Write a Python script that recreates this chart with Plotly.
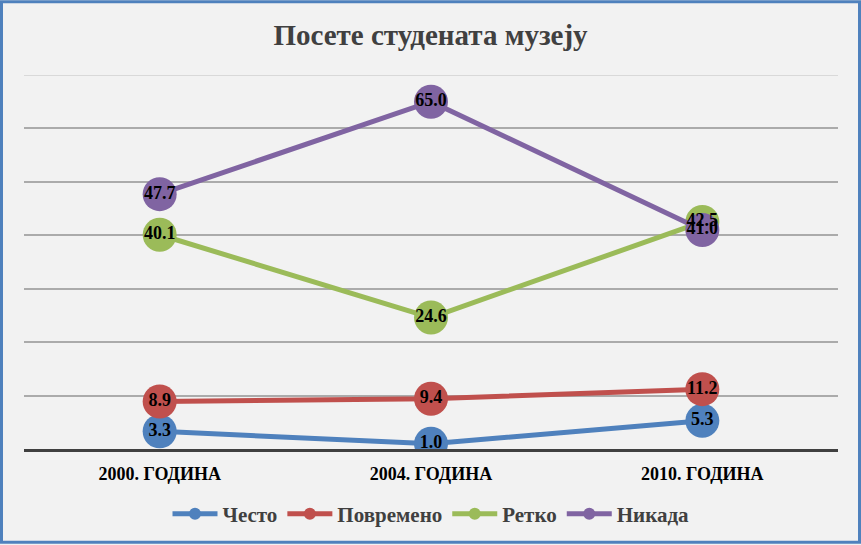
import plotly.graph_objects as go

# Подаци са графикона
godine = ['2000. ГОДИНА', '2004. ГОДИНА', '2010. ГОДИНА']
cesto = [3.3, 1.0, 5.3]
povremeno = [8.9, 9.4, 11.2]
retko = [40.1, 24.6, 42.5]
nikada = [47.7, 65.0, 41.0]

serije = [
    ('Често', cesto, '#4f81bd'),
    ('Повремено', povremeno, '#c0504d'),
    ('Ретко', retko, '#9bbb59'),
    ('Никада', nikada, '#8064a2'),
]

font_serif = 'Liberation Serif'

fig = go.Figure()

# линије и маркери
for ime, vrednosti, boja in serije:
    fig.add_trace(go.Scatter(
        x=godine, y=vrednosti, name=ime, mode='lines+markers', showlegend=False,
        line=dict(color=boja, width=5),
        marker=dict(color=boja, size=34),
        hoverinfo='skip',
    ))

# ознаке вредности изнад свих маркера (као у Excel-у)
for ime, vrednosti, boja in serije:
    fig.add_trace(go.Scatter(
        x=godine, y=vrednosti, mode='text', showlegend=False,
        text=[f'{v:.1f}' for v in vrednosti], textposition='middle center',
        textfont=dict(family=font_serif, size=18, color='black', weight='bold'),
        hoverinfo='skip',
    ))

# легенда са мањим маркерима
for ime, vrednosti, boja in serije:
    fig.add_trace(go.Scatter(
        x=[None], y=[None], name=ime, mode='lines+markers',
        line=dict(color=boja, width=5), marker=dict(color=boja, size=12),
    ))

sirina, visina = 861, 545
ml, mr, mt, mb = 24, 23, 75, 95
pw, ph = sirina - ml - mr, visina - mt - mb

# горња (светлија) линија мреже
fig.add_shape(type='line', xref='paper', yref='y', x0=0, x1=1, y0=70, y1=70,
              line=dict(color='#d9d9d9', width=2), layer='below')

# плави оквир око целе слике
fig.add_shape(type='rect', xref='paper', yref='paper',
              x0=-(ml - 1.5) / pw, x1=1 + (mr - 1.5) / pw,
              y0=-(mb - 1.5) / ph, y1=1 + (mt - 1.5) / ph,
              line=dict(color='#4f81bd', width=3), layer='above')

fig.update_layout(
    width=sirina, height=visina,
    margin=dict(l=ml, r=mr, t=mt, b=mb),
    paper_bgcolor='#f2f2f2', plot_bgcolor='#f2f2f2',
    title=dict(text='Посете студената музеју', x=0.5, xanchor='center',
               y=1 - 35 / visina, yanchor='middle',
               font=dict(family=font_serif, size=29, color='#404040', weight='bold')),
    showlegend=True,
    legend=dict(orientation='h', x=0.5, xanchor='center', y=-64 / ph, yanchor='middle',
                font=dict(family=font_serif, size=21, color='#404040', weight='bold'),
                bgcolor='rgba(0,0,0,0)', itemwidth=45),
    xaxis=dict(range=[-0.5, 2.5], showgrid=False, showline=True, linewidth=3,
               linecolor='#404040', ticks='', zeroline=False, ticklabelstandoff=6,
               tickfont=dict(family=font_serif, size=18, color='black', weight='bold')),
    yaxis=dict(range=[0, 70], dtick=10, showticklabels=False, showgrid=True,
               gridcolor='#ababab', gridwidth=2, zeroline=False, showline=False),
)

fig.write_html('out.html', config={'displayModeBar': False},
               post_script="document.body.style.margin='0';")
